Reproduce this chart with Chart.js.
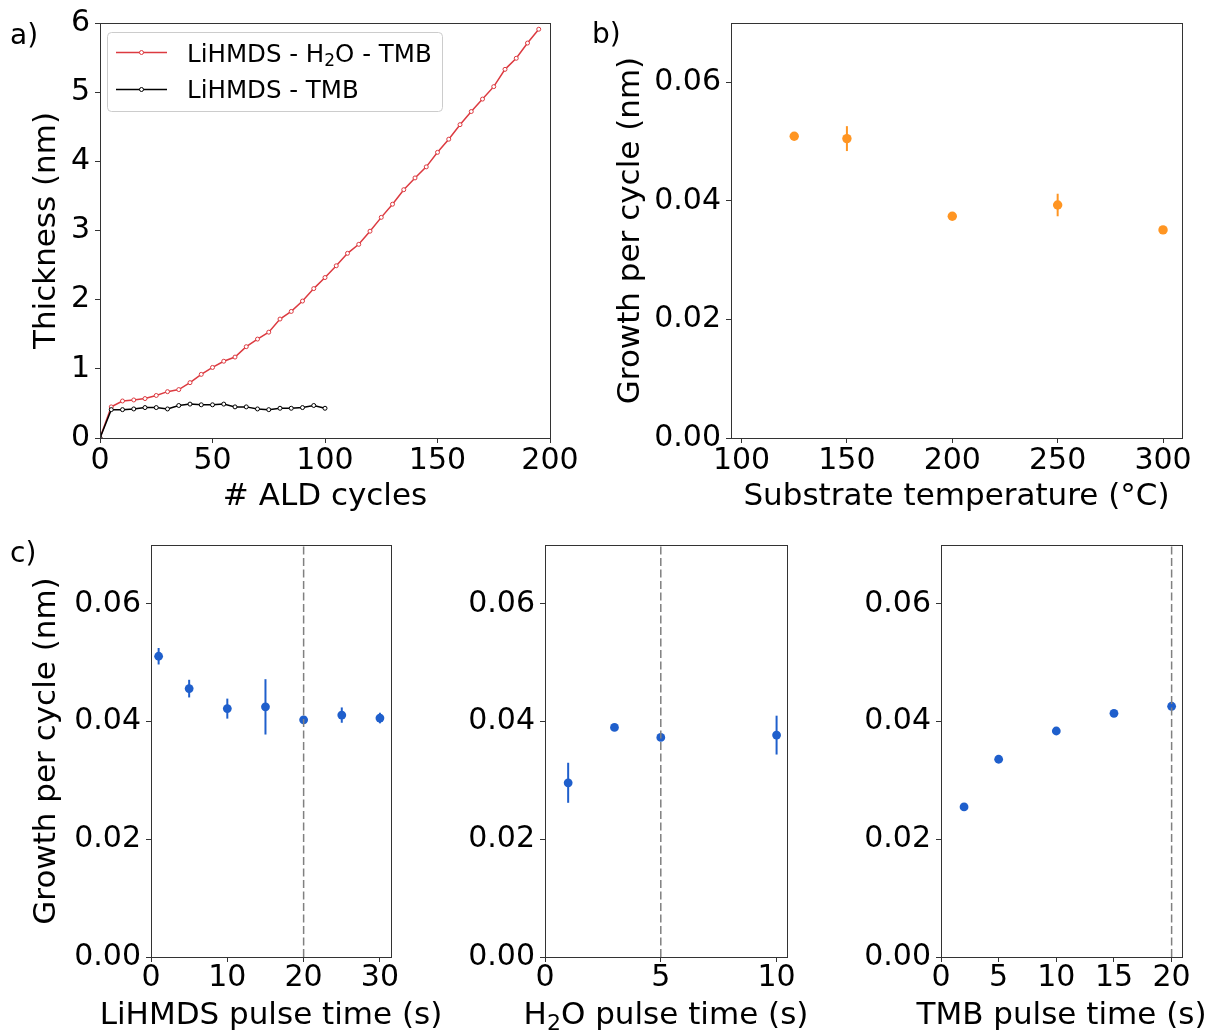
<!DOCTYPE html>
<html><head><meta charset="utf-8">
<script src="https://cdn.jsdelivr.net/npm/chart.js@4.4.0/dist/chart.umd.min.js"></script>
<style>
body{margin:0;background:#fff;width:1210px;height:1030px;position:relative;overflow:hidden;font-family:"DejaVu Sans";}
canvas{position:absolute;}
.lbl{position:absolute;font:28px "DejaVu Sans";color:#000;line-height:28px;white-space:nowrap;}
</style></head><body>
<canvas id="ca" width="590" height="525" style="left:0;top:0"></canvas>
<canvas id="cb" width="620" height="525" style="left:590px;top:0"></canvas>
<canvas id="cc1" width="470" height="505" style="left:0;top:525px"></canvas>
<canvas id="cc2" width="395" height="505" style="left:420px;top:525px"></canvas>
<canvas id="cc3" width="395" height="505" style="left:815px;top:525px"></canvas>
<div class="lbl" style="left:10px;top:21px">a)</div>
<div class="lbl" style="left:592px;top:20px">b)</div>
<div class="lbl" style="left:10px;top:539px">c)</div>
<script>
// ---------- data ----------
const cyclesH2O = [0,5,10,15,20,25,30,35,40,45,50,55,60,65,70,75,80,85,90,95,100,105,110,115,120,125,130,135,140,145,150,155,160,165,170,175,180,185,190,195];
const thickH2O = [0,0.45,0.535,0.55,0.57,0.615,0.67,0.70,0.80,0.92,1.02,1.11,1.17,1.32,1.43,1.53,1.72,1.83,1.98,2.16,2.32,2.49,2.67,2.80,2.99,3.19,3.38,3.59,3.76,3.92,4.13,4.32,4.53,4.72,4.90,5.08,5.33,5.49,5.71,5.91];
const cyclesNoH2O = [0,5,10,15,20,25,30,35,40,45,50,55,60,65,70,75,80,85,90,95,100];
const thickNoH2O = [0,0.41,0.41,0.42,0.44,0.44,0.42,0.47,0.49,0.48,0.48,0.49,0.45,0.45,0.42,0.41,0.43,0.43,0.44,0.47,0.43];
const seriesNames = [['LiHMDS - H', '2', 'O - TMB'], ['LiHMDS - TMB']];

const tempB = [125,150,200,250,300];
const gpcTemp = [0.0509,0.0505,0.0374,0.0393,0.0351];
const gpcTempErr = [0.0003,0.0021,0.0003,0.0019,0.0003];

const lihmdsPulse = [1,5,10,15,20,25,30];
const gpcLihmds = [0.0511,0.0456,0.0422,0.0425,0.0403,0.0411,0.0406];
const gpcLihmdsErr = [0.0014,0.0015,0.0017,0.0047,0.0005,0.0013,0.0009];
const h2oPulse = [1,3,5,10];
const gpcH2o = [0.0296,0.0390,0.0373,0.0377];
const gpcH2oErr = [0.0034,0.0004,0.0004,0.0033];
const tmbPulse = [2,5,10,15,20];
const gpcTmb = [0.0255,0.0336,0.0384,0.0414,0.0426];
const gpcTmbErr = [0.0004,0.0003,0.0004,0.0003,0.0003];
const refPulse = [20,5,20];

const ticksAx = [0,50,100,150,200];
const ticksAy = [0,1,2,3,4,5,6];
const ticksBx = [100,150,200,250,300];
const ticksGpc = [0,0.02,0.04,0.06];
const ticksC1x = [0,10,20,30];
const ticksC2x = [0,5,10];
const ticksC3x = [0,5,10,15,20];

// ---------- styling ----------
const F = 'DejaVu Sans';
Chart.defaults.font.family = F;
Chart.defaults.color = '#000';
const AXIS = '#333333';
const RED = '#dc3a40', ORANGE = '#ff9522', BLUE = '#1f5fcc', DASH = '#808080';
const TICK = 30, LAB = 31;

const pts = (xs, ys) => xs.map((x, i) => ({x, y: ys[i]}));

// draws text made of parts; the middle part of a 3-part array is a subscript
function drawParts(ctx, parts, x, base, size, align) {
  const sub = Math.round(size * 0.7);
  const widths = parts.map((p, i) => {
    ctx.font = ((parts.length === 3 && i === 1) ? sub : size) + 'px "DejaVu Sans"';
    return ctx.measureText(p).width;
  });
  const total = widths.reduce((a, b) => a + b, 0);
  let cx = align === 'center' ? x - total / 2 : x;
  ctx.textAlign = 'left'; ctx.textBaseline = 'alphabetic';
  parts.forEach((p, i) => {
    const isSub = parts.length === 3 && i === 1;
    ctx.font = (isSub ? sub : size) + 'px "DejaVu Sans"';
    ctx.fillText(p, cx, base + (isSub ? size * 0.2 : 0));
    cx += widths[i];
  });
}

const framePlugin = {
  id: 'frame',
  afterDatasetsDraw(chart) {
    const {ctx, chartArea: a} = chart;
    const al = p => Math.round(p - 0.5) + 0.5;
    ctx.save();
    ctx.strokeStyle = AXIS; ctx.lineWidth = 1;
    ctx.strokeRect(al(a.left), al(a.top), al(a.right) - al(a.left), al(a.bottom) - al(a.top));
    ctx.restore();
  }
};
const xTitlePlugin = {
  id: 'xTitle',
  afterDraw(chart, args, opts) {
    if (!opts || !opts.parts) return;
    const {ctx, chartArea: a} = chart;
    ctx.save();
    ctx.fillStyle = '#000';
    drawParts(ctx, opts.parts, (a.left + a.right) / 2, opts.baseline, LAB, 'center');
    ctx.restore();
  }
};
const errorBarPlugin = {
  id: 'errbars',
  beforeDatasetsDraw(chart) {
    const {ctx, scales: {x, y}} = chart;
    ctx.save();
    chart.data.datasets.forEach(ds => {
      if (!ds.errors) return;
      ctx.strokeStyle = ds.backgroundColor; ctx.lineWidth = 2;
      ds.data.forEach((p, i) => {
        const px = x.getPixelForValue(p.x);
        ctx.beginPath();
        ctx.moveTo(px, y.getPixelForValue(p.y - ds.errors[i]));
        ctx.lineTo(px, y.getPixelForValue(p.y + ds.errors[i]));
        ctx.stroke();
      });
    });
    ctx.restore();
  }
};
const legendPlugin = {
  id: 'customLegend',
  afterDraw(chart) {
    const ctx = chart.ctx;
    ctx.save();
    ctx.beginPath();
    ctx.roundRect(107.5, 32.5, 335, 79, 4);
    ctx.fillStyle = 'rgba(255,255,255,0.8)'; ctx.fill();
    ctx.strokeStyle = '#cccccc'; ctx.lineWidth = 1; ctx.stroke();
    const rows = [{c: RED, y: 52.5, base: 61.5}, {c: '#000', y: 89.5, base: 98}];
    rows.forEach((r, k) => {
      ctx.strokeStyle = r.c; ctx.lineWidth = 1.5;
      ctx.beginPath(); ctx.moveTo(116, r.y); ctx.lineTo(167, r.y); ctx.stroke();
      ctx.beginPath(); ctx.arc(141.5, r.y, 2, 0, Math.PI * 2);
      ctx.fillStyle = '#fff'; ctx.fill(); ctx.lineWidth = 1; ctx.stroke();
      ctx.fillStyle = '#000';
      drawParts(ctx, seriesNames[k], 187, r.base, 24.5, 'left');
    });
    ctx.restore();
  }
};

function axisX(o) {
  return {
    type: 'linear', position: 'bottom', min: o.min, max: o.max,
    afterBuildTicks: s => { s.ticks = o.ticks.map(v => ({value: v})); },
    afterFit: s => { s.height = o.h; },
    ticks: {font: {size: TICK, lineHeight: 1}, color: '#000', padding: o.tp, autoSkip: false, maxRotation: 0, minRotation: 0,
            callback: v => String(v)},
    grid: {display: true, drawOnChartArea: false, drawTicks: true, tickLength: 5, tickWidth: 1, tickColor: AXIS},
    border: {display: true, color: AXIS, width: 1},
    title: {display: false}
  };
}
function axisY(o) {
  return {
    type: 'linear', position: 'left', min: o.min, max: o.max,
    afterBuildTicks: s => { s.ticks = o.ticks.map(v => ({value: v})); },
    afterFit: s => { s.width = o.w; },
    ticks: {font: {size: TICK, lineHeight: 1}, color: '#000', padding: 5, autoSkip: false,
            callback: o.fmt},
    grid: {display: true, drawOnChartArea: false, drawTicks: true, tickLength: 5, tickWidth: 1, tickColor: AXIS},
    border: {display: true, color: AXIS, width: 1},
    title: {display: !!o.title, text: o.title || '', font: {size: LAB, lineHeight: 1}, color: '#000', padding: {top: o.tpad || 0, bottom: 0}}
  };
}
function baseOpts(x, y, pad, xt) {
  return {
    responsive: false, animation: false, devicePixelRatio: 1,
    layout: {padding: pad},
    plugins: {legend: {display: false}, tooltip: {enabled: false}, xTitle: xt},
    scales: {x, y}
  };
}
const fmt2 = v => v.toFixed(2);

// ---------- panel a ----------
new Chart(document.getElementById('ca'), {
  type: 'line',
  data: {datasets: [
    {data: pts(cyclesNoH2O, thickNoH2O), borderColor: '#000', borderWidth: 1.5, pointRadius: 2, pointBorderWidth: 1,
     pointBackgroundColor: '#fff', pointBorderColor: '#000', tension: 0},
    {data: pts(cyclesH2O, thickH2O), borderColor: RED, borderWidth: 1.5, pointRadius: 2, pointBorderWidth: 1,
     pointBackgroundColor: '#fff', pointBorderColor: RED, tension: 0}
  ]},
  options: baseOpts(
    axisX({min: 0, max: 200, ticks: ticksAx, h: 87, tp: 3.5}),
    axisY({min: 0, max: 6, ticks: ticksAy, w: 100, title: 'Thickness (nm)', tpad: 31, fmt: v => String(v)}),
    {top: 23, right: 40, left: 0, bottom: 0},
    {parts: ['# ALD cycles'], baseline: 505}),
  plugins: [framePlugin, legendPlugin, xTitlePlugin]
});

// ---------- panel b ----------
new Chart(document.getElementById('cb'), {
  type: 'scatter',
  data: {datasets: [
    {data: pts(tempB, gpcTemp), errors: gpcTempErr, backgroundColor: ORANGE, borderWidth: 0, pointRadius: 4.7}
  ]},
  options: baseOpts(
    axisX({min: 95, max: 309, ticks: ticksBx, h: 87, tp: 3.5}),
    axisY({min: 0, max: 0.07, ticks: ticksGpc, w: 141, title: 'Growth per cycle (nm)', tpad: 25, fmt: fmt2}),
    {top: 23, right: 28, left: 0, bottom: 0},
    {parts: ['Substrate temperature (°C)'], baseline: 505}),
  plugins: [framePlugin, errorBarPlugin, xTitlePlugin]
});

// ---------- panel c ----------
function pulseChart(id, xs, ys, es, ref, xo, yo, pad, xt) {
  new Chart(document.getElementById(id), {
    type: 'scatter',
    data: {datasets: [
      {data: [{x: ref, y: 0}, {x: ref, y: 0.07}], showLine: true, borderColor: DASH, borderWidth: 1.5,
       borderDash: [8, 3.5], pointRadius: 0, order: 0},
      {data: pts(xs, ys), errors: es, backgroundColor: BLUE, borderWidth: 0, pointRadius: 4.4, order: 1}
    ]},
    options: baseOpts(axisX(xo), axisY(yo), pad, xt),
    plugins: [framePlugin, errorBarPlugin, xTitlePlugin]
  });
}
pulseChart('cc1', lihmdsPulse, gpcLihmds, gpcLihmdsErr, refPulse[0],
  {min: 0, max: 31.45, ticks: ticksC1x, h: 73, tp: 1.5},
  {min: 0, max: 0.07, ticks: ticksGpc, w: 151, title: 'Growth per cycle (nm)', tpad: 31, fmt: fmt2},
  {top: 17, right: 79, left: 0, bottom: 0},
  {parts: ['LiHMDS pulse time (s)'], baseline: 499});
pulseChart('cc2', h2oPulse, gpcH2o, gpcH2oErr, refPulse[1],
  {min: 0, max: 10.45, ticks: ticksC2x, h: 73, tp: 1.5},
  {min: 0, max: 0.07, ticks: ticksGpc, w: 125, fmt: fmt2},
  {top: 17, right: 28, left: 0, bottom: 0},
  {parts: ['H', '2', 'O pulse time (s)'], baseline: 499});
pulseChart('cc3', tmbPulse, gpcTmb, gpcTmbErr, refPulse[2],
  {min: 0, max: 20.9, ticks: ticksC3x, h: 73, tp: 1.5},
  {min: 0, max: 0.07, ticks: ticksGpc, w: 126, fmt: fmt2},
  {top: 17, right: 28, left: 0, bottom: 0},
  {parts: ['TMB pulse time (s)'], baseline: 499});
</script>
</body></html>
